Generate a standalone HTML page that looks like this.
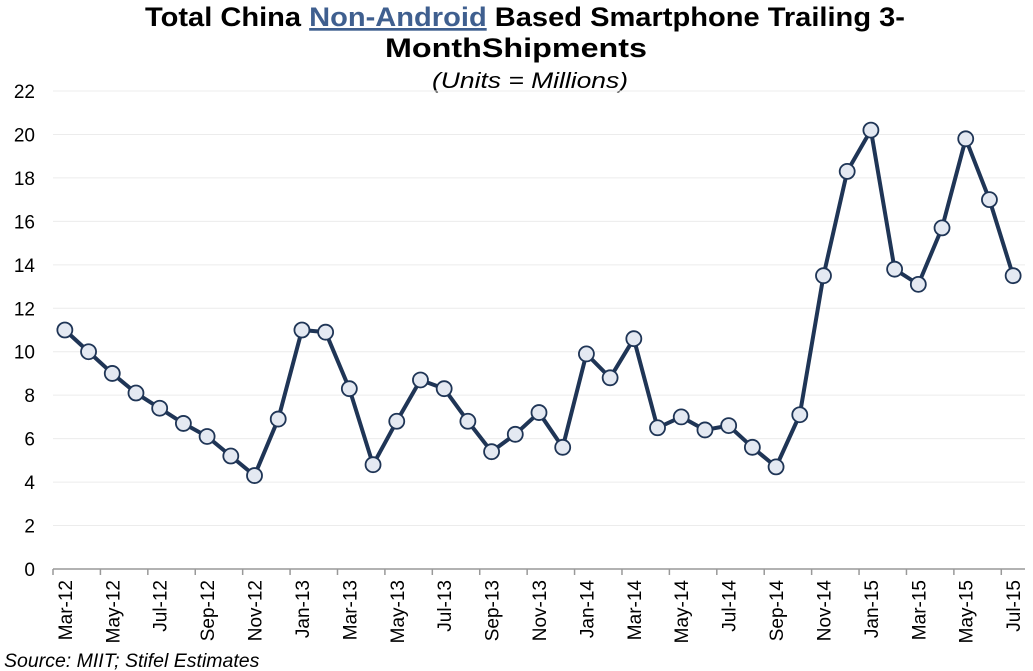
<!DOCTYPE html>
<html><head><meta charset="utf-8"><style>
body{margin:0;background:#fff;font-family:"Liberation Sans",Arial,sans-serif}
svg{display:block}
</style></head><body>
<svg id="c" width="1033" height="671">
<text x="145" y="26" font-size="27" font-weight="bold" textLength="760" lengthAdjust="spacingAndGlyphs">Total China <tspan fill="#3f5f8f" text-decoration="underline">Non-Android</tspan> Based Smartphone  Trailing 3-</text>
<text x="385" y="57" font-size="27" font-weight="bold" textLength="262" lengthAdjust="spacingAndGlyphs">MonthShipments</text>
<text x="432" y="88" font-size="22" font-style="italic" textLength="196" lengthAdjust="spacingAndGlyphs">(Units = Millions)</text>
<g id="grid"></g><g id="axes"></g><g id="series"></g>
<text x="4" y="667" font-size="19.5" font-style="italic">Source: MIIT; Stifel  Estimates</text>
</svg>
<script>
const categories=["Mar-12","Apr-12","May-12","Jun-12","Jul-12","Aug-12","Sep-12","Oct-12","Nov-12","Dec-12","Jan-13","Feb-13","Mar-13","Apr-13","May-13","Jun-13","Jul-13","Aug-13","Sep-13","Oct-13","Nov-13","Dec-13","Jan-14","Feb-14","Mar-14","Apr-14","May-14","Jun-14","Jul-14","Aug-14","Sep-14","Oct-14","Nov-14","Dec-14","Jan-15","Feb-15","Mar-15","Apr-15","May-15","Jun-15","Jul-15"];
const values=[11.0,10.0,9.0,8.1,7.4,6.7,6.1,5.2,4.3,6.9,11.0,10.9,8.3,4.8,6.8,8.7,8.3,6.8,5.4,6.2,7.2,5.6,9.9,8.8,10.6,6.5,7.0,6.4,6.6,5.6,4.7,7.1,13.5,18.3,20.2,13.8,13.1,15.7,19.8,17.0,13.5];
const yTicks=[0,2,4,6,8,10,12,14,16,18,20,22];
const NS="http://www.w3.org/2000/svg";
const x0=53,x1=1025,yb=569,yt=91,ymax=22;
const cw=(x1-x0)/categories.length;
const X=i=>x0+(i+0.5)*cw;
const Y=v=>yb-(v/ymax)*(yb-yt);
function mk(tag,attrs,parent){const e=document.createElementNS(NS,tag);for(const k in attrs)e.setAttribute(k,attrs[k]);parent.appendChild(e);return e;}
const grid=document.getElementById('grid'),axes=document.getElementById('axes'),ser=document.getElementById('series');
yTicks.forEach(t=>{
  if(t>0){const g=mk('line',{x1:x0,x2:x1,y1:Y(t),y2:Y(t),stroke:'#ececec','stroke-width':1},grid);
  
  }
  const l=mk('text',{x:35,y:Y(t)+7,'text-anchor':'end','font-size':19},axes);
  l.textContent=t;
  
  
});
const ax=mk('line',{x1:x0,x2:x1,y1:yb,y2:yb,stroke:'#999','stroke-width':1.5},axes);


for(let i=0;i<=categories.length;i+=2){
  const tk=mk('line',{x1:x0+i*cw,x2:x0+i*cw,y1:yb,y2:yb+6,stroke:'#999','stroke-width':1.5},axes);
  
  
}
categories.forEach((c,i)=>{
  if(i%2)return;
  const t=mk('text',{transform:`translate(${X(i)+7},${yb+11}) rotate(-90)`,'text-anchor':'end','font-size':19},axes);
  t.textContent=c;
  
  
});
const p=mk('polyline',{points:values.map((v,i)=>X(i)+','+Y(v)).join(' '),fill:'none',stroke:'#1f3556','stroke-width':4,'stroke-linejoin':'round'},ser);


values.forEach((v,i)=>{
  const c=mk('circle',{cx:X(i),cy:Y(v),r:7.5,fill:'#e4e9f2',stroke:'#1f3556','stroke-width':1.8},ser);
  
  
});
</script>
</body></html>
